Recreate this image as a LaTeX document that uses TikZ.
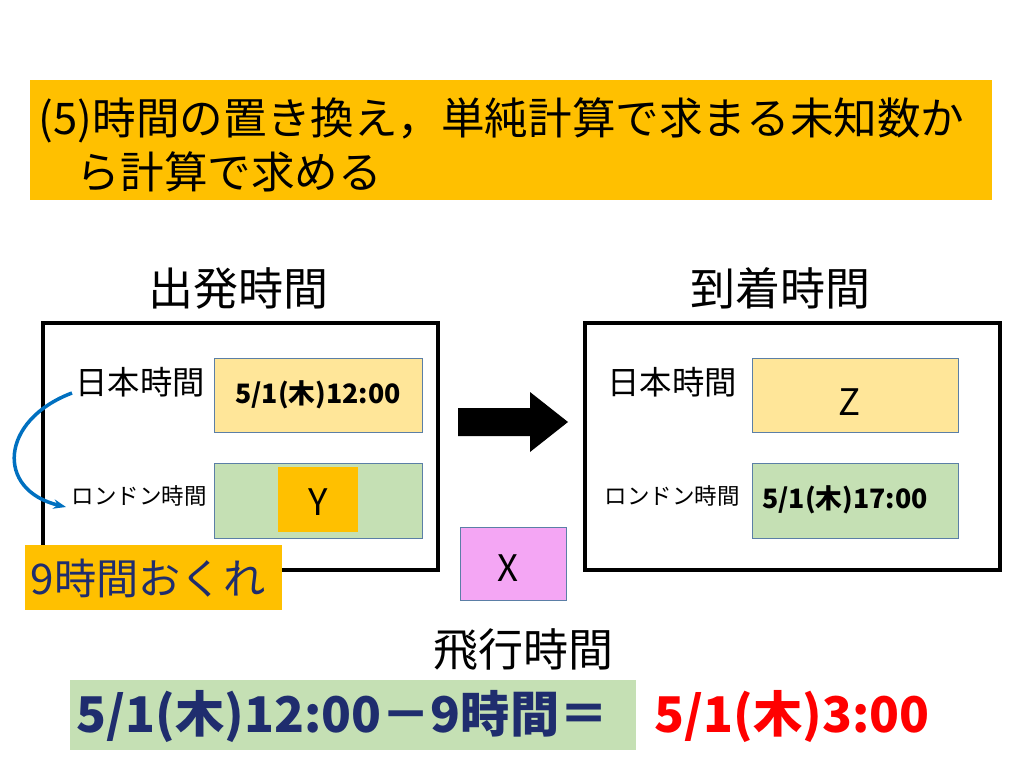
\documentclass[tikz,border=0pt]{standalone}
\usepackage{fontspec}
\setmainfont{Noto Sans CJK JP}
\usepackage{tikz}
\usetikzlibrary{positioning,arrows.meta}
\definecolor{bandorange}{HTML}{FFC000}
\definecolor{paleyellow}{HTML}{FFE699}
\definecolor{palegreen}{HTML}{C5E0B4}
\definecolor{palepink}{HTML}{F4A6F4}
\definecolor{navy}{HTML}{1F2D6E}
\definecolor{boxline}{HTML}{5B7FA6}
\begin{document}
\begin{tikzpicture}[x=0.025cm, y=-0.025cm,
  frame/.style={draw=black, line width=2.2pt},
  cell/.style={draw=boxline, line width=0.5pt},
  lbl/.style={font=\fontsize{23}{26}\selectfont},
  small/.style={font=\fontsize{16}{18}\selectfont},
  celltext/.style={font=\bfseries\fontsize{19}{22}\selectfont},
  head/.style={font=\fontsize{32}{36}\selectfont}]
  \useasboundingbox (0,0) rectangle (1024,768);
  % title band
  \fill[bandorange] (30,80) rectangle (992,200);
  \node[anchor=west, font=\fontsize{31}{36}\selectfont] (t1) at (34,120) {(5)時間の置き換え，単純計算で求まる未知数か};
  \node[anchor=west, font=\fontsize{31}{36}\selectfont] (t2) at (72,172) {ら計算で求める};
  % headings
  \node[head] (dep) at (238,288) {出発時間};
  \node[head] (arr) at (780,288) {到着時間};
  % frames
  \draw[frame] (43,323) rectangle (438,570);
  \draw[frame] (585,323) rectangle (1000,570);
  % left cells
  \draw[cell, fill=paleyellow] (214,358) rectangle (422,432);
  \node[celltext] (ljt) at (318,395) {5/1(木)12:00};
  \draw[cell, fill=palegreen] (214,463) rectangle (422,538);
  \fill[bandorange] (278,467) rectangle (358,532);
  \node[font=\fontsize{26}{30}\selectfont] (y) at (318,502) {Y};
  \node[lbl] (ljp) at (140,382) {日本時間};
  \node[small] (llon) at (139,496) {ロンドン時間};
  % delay
  \draw[-{Stealth[length=9pt]}, draw={rgb,255:red,0;green,112;blue,192}, line width=2.5pt]
    (72,393) .. controls (0,420) and (-5,490) .. (66,507);
  \fill[bandorange] (25,545) rectangle (282,610);
  \node[anchor=west, text=navy, font=\fontsize{30}{34}\selectfont] (delay) at (26,578) {9時間おくれ};
  % arrow
  \fill[black] (458,408) -- (530,408) -- (530,392) -- (568,422) -- (530,452) -- (530,436) -- (458,436) -- cycle;
  % flight time
  \draw[cell, fill=palepink] (460,527) rectangle (566,600);
  \node[font=\fontsize{26}{30}\selectfont] (x) at (508,568) {X};
  \node[head] (flt) at (523,650) {飛行時間};
  % right cells
  \node[lbl] (rjp) at (672,382) {日本時間};
  \draw[cell, fill=paleyellow] (752,358) rectangle (958,432);
  \node[font=\fontsize{26}{30}\selectfont] (z) at (850,402) {Z};
  \node[small] (rlon) at (672,496) {ロンドン時間};
  \draw[cell, fill=palegreen] (752,463) rectangle (958,538);
  \node[celltext] (rlt) at (845,500) {5/1(木)17:00};
  % equation
  \fill[palegreen] (70,680) rectangle (636,750);
  \node[anchor=west, text=navy, font=\bfseries\fontsize{35}{40}\selectfont] (eq) at (72,716) {5/1(木)12:00－9時間＝};
  \node[anchor=west, text=red, font=\bfseries\fontsize{35}{40}\selectfont] (res) at (650,716) {5/1(木)3:00};
\end{tikzpicture}
\end{document}
